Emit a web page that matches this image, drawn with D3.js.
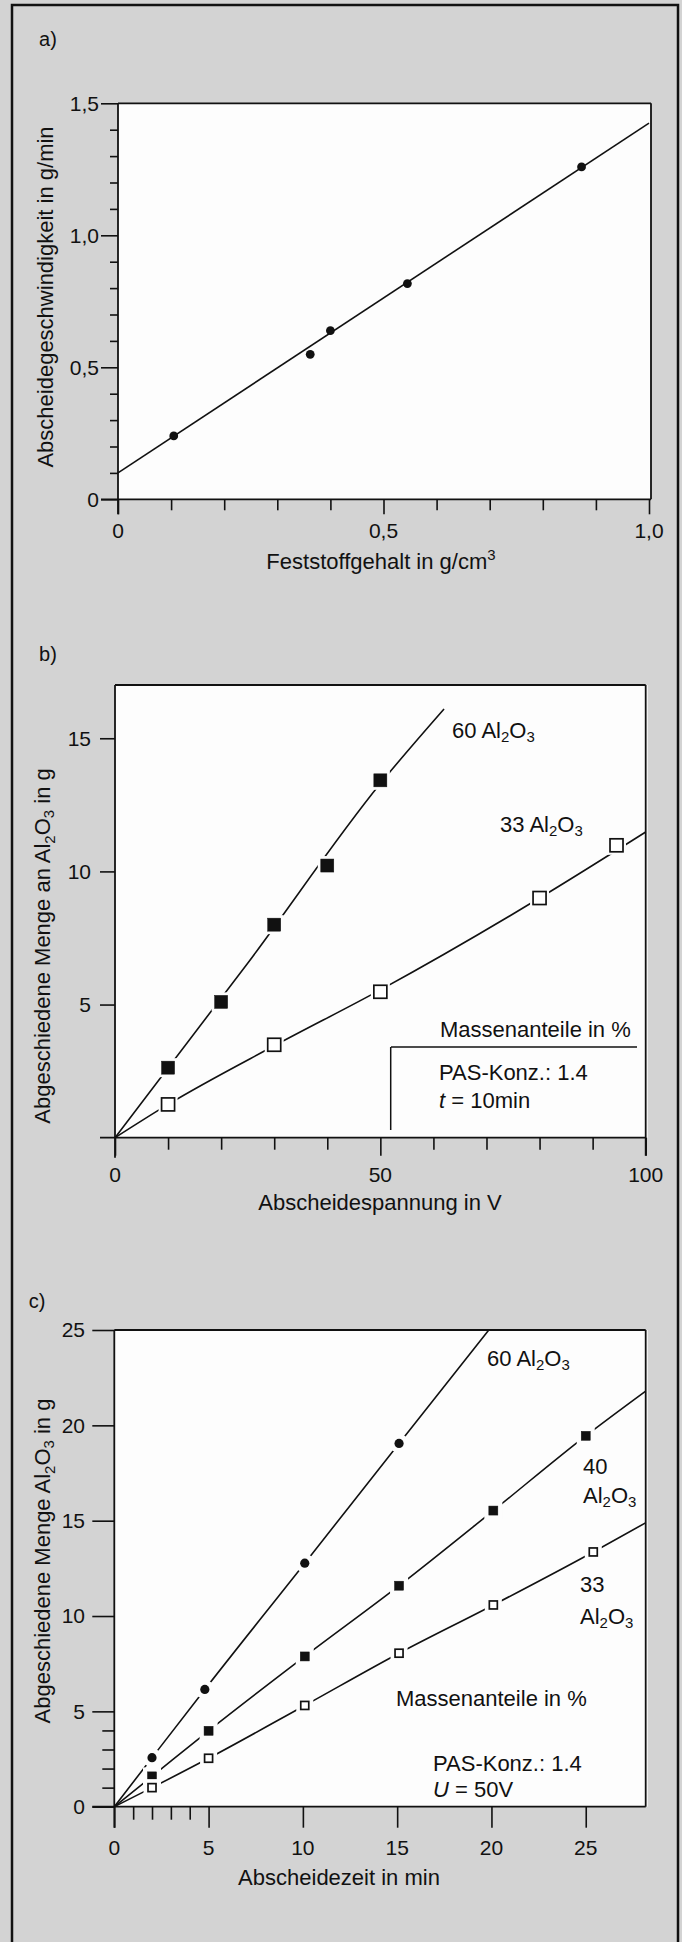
<!DOCTYPE html>
<html><head><meta charset="utf-8">
<script src="https://cdn.jsdelivr.net/npm/d3@7"></script>
<style>
html,body{margin:0;padding:0;background:#d3d3d3;}
svg{display:block;}
text{font-family:"Liberation Sans",Arial,Helvetica,sans-serif;fill:#111;}
</style></head><body>
<svg id="chart" width="682" height="1942"></svg>
<script>
// ---------- Panel a data ----------
const aConc = [0.105, 0.362, 0.40, 0.545, 0.873];
const aRate = [0.24, 0.549, 0.639, 0.817, 1.259];
const aFitConc = [0, 1.0];
const aFitRate = [0.10, 1.425];
const aYMajor = [0, 0.5, 1.0, 1.5];
const aYMajorLabels = ["0", "0,5", "1,0", "1,5"];
const aXMajor = [0, 0.5, 1.0];
const aXMajorLabels = ["0", "0,5", "1,0"];

// ---------- Panel b data ----------
const bVolt60 = [10, 20, 30, 40, 50];
const bMass60 = [2.63, 5.1, 8.0, 10.22, 13.42];
const bFitVolt60 = [0, 25, 50, 62];
const bFitMass60 = [0, 6.55, 13.3, 16.1];
const bVolt33 = [10, 30, 50, 80, 94.5];
const bMass33 = [1.25, 3.49, 5.48, 9.0, 10.98];
const bFitVolt33 = [0, 10, 30, 50, 80, 100];
const bFitMass33 = [0, 1.25, 3.45, 5.55, 9.0, 11.48];
const bYMajor = [5, 10, 15];
const bYMajorLabels = ["5", "10", "15"];
const bXMajor = [0, 50, 100];
const bXMajorLabels = ["0", "50", "100"];

// ---------- Panel c data ----------
const cTime60 = [2, 4.8, 10.1, 15.1];
const cMass60 = [2.57, 6.15, 12.77, 19.05];
const cEnd60 = [19.86, 25];
const cTime40 = [2, 5, 10.1, 15.1, 20.1, 25];
const cMass40 = [1.59, 3.98, 7.88, 11.59, 15.53, 19.45];
const cEnd40 = [28.18, 21.8];
const cTime33 = [2, 5, 10.1, 15.1, 20.1, 25.4];
const cMass33 = [1.0, 2.54, 5.31, 8.05, 10.58, 13.36];
const cEnd33 = [28.18, 14.89];
const cYMajor = [0, 5, 10, 15, 20, 25];
const cYMajorLabels = ["0", "5", "10", "15", "20", "25"];
const cXMajor = [0, 5, 10, 15, 20, 25];
const cXMajorLabels = ["0", "5", "10", "15", "20", "25"];

const INK = "#111";
const svg = d3.select("#chart");
svg.append("rect").attr("width", 682).attr("height", 1942).attr("fill", "#d3d3d3");
svg.append("rect").attr("x", 12).attr("y", 5).attr("width", 666).attr("height", 1960)
  .attr("fill", "none").attr("stroke", INK).attr("stroke-width", 2.5);

function tickSet(g, orient, scale, values, size, pos) {
  const axis = (orient === "bottom" ? d3.axisBottom(scale) : d3.axisLeft(scale))
    .tickValues(values).tickSize(size).tickFormat("");
  const s = g.append("g")
    .attr("transform", orient === "bottom" ? `translate(0,${pos})` : `translate(${pos},0)`)
    .call(axis);
  s.select(".domain").remove();
  s.selectAll("line").attr("stroke", INK).attr("stroke-width", 1.6);
}
function xLabels(g, scale, values, labels, yc) {
  g.append("g").selectAll("text").data(values).join("text")
    .attr("x", d => scale(d)).attr("y", yc).attr("dy", "0.35em")
    .attr("text-anchor", "middle").attr("font-size", 21).text((d, i) => labels[i]);
}
function yLabels(g, scale, values, labels, xr) {
  g.append("g").selectAll("text").data(values).join("text")
    .attr("x", xr).attr("y", d => scale(d)).attr("dy", "0.35em")
    .attr("text-anchor", "end").attr("font-size", 21).text((d, i) => labels[i]);
}
function line(g, x1, y1, x2, y2, w) {
  g.append("line").attr("x1", x1).attr("y1", y1).attr("x2", x2).attr("y2", y2)
    .attr("stroke", INK).attr("stroke-width", w || 1.8);
}
function box(g, x, y) {
  const [l, r] = x.range(); const [b, t] = y.range();
  g.append("rect").attr("x", l).attr("y", t).attr("width", r - l + 2).attr("height", b - t).attr("fill", "#fdfdfd");
  return { l, r: r + 2, t, b };
}
function alo(t, prefix) {
  if (prefix) t.append("tspan").text(prefix);
  t.append("tspan").text("Al");
  t.append("tspan").attr("font-size", "0.68em").attr("dy", "0.32em").text("2");
  t.append("tspan").attr("dy", "-0.22em").text("O");
  t.append("tspan").attr("font-size", "0.68em").attr("dy", "0.32em").text("3");
}
function label(g, x, yc, size) {
  return g.append("text").attr("x", x).attr("y", yc).attr("dy", "0.35em").attr("font-size", size || 22);
}
function yTitle(g, cx, cy) {
  return g.append("text").attr("transform", `translate(${cx},${cy}) rotate(-90)`)
    .attr("text-anchor", "middle").attr("dy", "0.35em").attr("font-size", 22);
}
function curveXY(g, x, y, xs, ys) {
  const pts = xs.map((v, i) => [v, ys[i]]);
  g.append("path").datum(pts)
    .attr("d", d3.line().x(d => x(d[0])).y(d => y(d[1])).curve(d3.curveMonotoneX))
    .attr("fill", "none").attr("stroke", INK).attr("stroke-width", 1.6);
}
function curve(g, x, y, xs, ys, end) {
  curveXY(g, x, y, [0].concat(xs, [end[0]]), [0].concat(ys, [end[1]]));
}
function squares(g, x, y, xs, ys, side, filled, halo) {
  const pts = xs.map((v, i) => [v, ys[i]]);
  g.append("g").selectAll("rect").data(pts).join("rect")
    .attr("x", d => x(d[0]) - (side + halo) / 2).attr("y", d => y(d[1]) - (side + halo) / 2)
    .attr("width", side + halo).attr("height", side + halo).attr("fill", "#fdfdfd");
  g.append("g").selectAll("rect").data(pts).join("rect")
    .attr("x", d => x(d[0]) - side / 2).attr("y", d => y(d[1]) - side / 2)
    .attr("width", side).attr("height", side)
    .attr("fill", filled ? INK : "#fff").attr("stroke", INK).attr("stroke-width", filled ? 0.5 : 1.7);
}
function circles(g, x, y, xs, ys, r, halo) {
  const pts = xs.map((v, i) => [v, ys[i]]);
  if (halo) g.append("g").selectAll("circle").data(pts).join("circle")
    .attr("cx", d => x(d[0])).attr("cy", d => y(d[1])).attr("r", r + halo).attr("fill", "#fdfdfd");
  g.append("g").selectAll("circle").data(pts).join("circle")
    .attr("cx", d => x(d[0])).attr("cy", d => y(d[1])).attr("r", r).attr("fill", INK);
}

// ================= Panel a =================
{
  const g = svg.append("g");
  const x = d3.scaleLinear().domain([0, 1]).range([118, 649]);
  const y = d3.scaleLinear().domain([0, 1.5]).range([499.3, 103.3]);
  const B = box(g, x, y);
  g.append("text").attr("x", 48).attr("y", 39).attr("dy", "0.35em").attr("text-anchor", "middle").attr("font-size", 20).text("a)");
  line(g, B.r, B.t, B.r, B.b); line(g, B.l, B.t, B.r, B.t);
  line(g, B.l, B.t, B.l, B.b + 15); line(g, B.l - 17, B.b, B.r, B.b);
  tickSet(g, "left", y, d3.range(1, 15).filter(v => v % 5 !== 0).map(v => v / 10), 8, B.l);
  tickSet(g, "left", y, aYMajor, 17, B.l);
  tickSet(g, "bottom", x, d3.range(1, 10).filter(v => v !== 5).map(v => v / 10), 11, B.b);
  tickSet(g, "bottom", x, aXMajor, 15, B.b);
  yLabels(g, y, aYMajor, aYMajorLabels, 99);
  xLabels(g, x, aXMajor, aXMajorLabels, 531);
  g.append("line").attr("x1", x(aFitConc[0])).attr("y1", y(aFitRate[0]))
    .attr("x2", x(aFitConc[1])).attr("y2", y(aFitRate[1]))
    .attr("stroke", INK).attr("stroke-width", 1.6);
  circles(g, x, y, aConc, aRate, 4.4, 0);
  yTitle(g, 45, 297).text("Abscheidegeschwindigkeit in g/min");
  const t = g.append("text").attr("x", 381).attr("y", 561).attr("dy", "0.35em").attr("text-anchor", "middle").attr("font-size", 22);
  t.append("tspan").text("Feststoffgehalt in g/cm");
  t.append("tspan").attr("font-size", "0.68em").attr("dy", "-0.6em").text("3");
}

// ================= Panel b =================
{
  const g = svg.append("g");
  const x = d3.scaleLinear().domain([0, 100]).range([115, 645.7]);
  const y = d3.scaleLinear().domain([0, 17]).range([1137.7, 685]);
  const B = box(g, x, y);
  g.append("text").attr("x", 48).attr("y", 654).attr("dy", "0.35em").attr("text-anchor", "middle").attr("font-size", 20).text("b)");
  line(g, B.r - 2, B.t, B.r - 2, B.b + 18); line(g, B.l, B.t, B.r - 2, B.t);
  line(g, B.l, B.t, B.l, B.b + 20); line(g, B.l - 15, B.b, B.r - 2, B.b);
  tickSet(g, "left", y, bYMajor, 15, B.l);
  tickSet(g, "bottom", x, d3.range(10, 100, 10).filter(v => v !== 50), 12, B.b);
  tickSet(g, "bottom", x, bXMajor, 18, B.b);
  yLabels(g, y, bYMajor, bYMajorLabels, 91);
  xLabels(g, x, bXMajor, bXMajorLabels, 1175);
  curveXY(g, x, y, bFitVolt60, bFitMass60);
  curveXY(g, x, y, bFitVolt33, bFitMass33);
  squares(g, x, y, bVolt60, bMass60, 13, true, 6);
  squares(g, x, y, bVolt33, bMass33, 13, false, 6);
  alo(label(g, 452, 730), "60  ");
  alo(label(g, 500, 824), "33  ");
  label(g, 440, 1029).text("Massenanteile in %");
  line(g, 391, 1047, 637, 1047, 1.5);
  line(g, 390.7, 1047, 390.7, 1130, 1.5);
  label(g, 439, 1072).text("PAS-Konz.:  1.4");
  const tt = label(g, 439, 1100);
  tt.append("tspan").attr("font-style", "italic").text("t");
  tt.append("tspan").text(" = 10min");
  const yt = yTitle(g, 42, 946);
  yt.append("tspan").text("Abgeschiedene Menge an ");
  alo(yt, "");
  yt.append("tspan").attr("dy", "-0.22em").text(" in g");
  g.append("text").attr("x", 380).attr("y", 1202).attr("dy", "0.35em").attr("text-anchor", "middle").attr("font-size", 22).text("Abscheidespannung in V");
}

// ================= Panel c =================
{
  const g = svg.append("g");
  const x = d3.scaleLinear().domain([0, 28.18]).range([114.3, 645.7]);
  const y = d3.scaleLinear().domain([0, 25]).range([1806.7, 1330]);
  const B = box(g, x, y);
  g.append("text").attr("x", 37).attr("y", 1301).attr("dy", "0.35em").attr("text-anchor", "middle").attr("font-size", 20).text("c)");
  line(g, B.r - 2, B.t, B.r - 2, B.b); line(g, B.l, B.t, B.r - 2, B.t);
  line(g, B.l, B.t, B.l, B.b + 21); line(g, B.l - 22, B.b, B.r - 2, B.b);
  tickSet(g, "left", y, [1, 2, 3, 4], 12, B.l);
  tickSet(g, "left", y, cYMajor, 22, B.l);
  tickSet(g, "bottom", x, [1, 2, 3, 4], 13, B.b);
  tickSet(g, "bottom", x, cXMajor, 21, B.b);
  yLabels(g, y, cYMajor, cYMajorLabels, 85);
  xLabels(g, x, cXMajor, cXMajorLabels, 1848);
  curve(g, x, y, cTime60, cMass60, cEnd60);
  curve(g, x, y, cTime40, cMass40, cEnd40);
  curve(g, x, y, cTime33, cMass33, cEnd33);
  circles(g, x, y, cTime60, cMass60, 4.6, 5);
  squares(g, x, y, cTime40, cMass40, 9, true, 9);
  squares(g, x, y, cTime33, cMass33, 8, false, 9);
  alo(label(g, 487, 1358), "60  ");
  label(g, 583, 1466).text("40");
  alo(label(g, 583, 1495), "");
  label(g, 580, 1584).text("33");
  alo(label(g, 580, 1616), "");
  label(g, 396, 1698).text("Massenanteile in %");
  label(g, 433, 1763).text("PAS-Konz.:  1.4");
  const ut = label(g, 433, 1789);
  ut.append("tspan").attr("font-style", "italic").text("U");
  ut.append("tspan").text(" = 50V");
  const yt = yTitle(g, 42, 1561);
  yt.append("tspan").text("Abgeschiedene Menge ");
  alo(yt, "");
  yt.append("tspan").attr("dy", "-0.22em").text(" in g");
  g.append("text").attr("x", 339).attr("y", 1877).attr("dy", "0.35em").attr("text-anchor", "middle").attr("font-size", 22).text("Abscheidezeit in min");
}
</script>
</body></html>
